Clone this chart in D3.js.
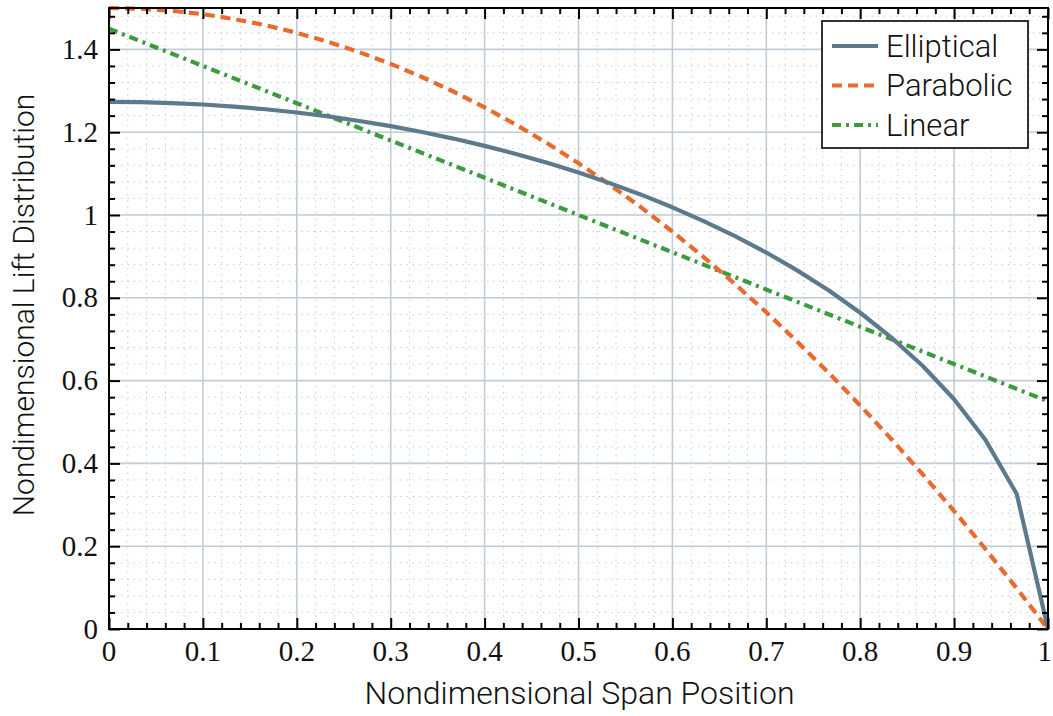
<!DOCTYPE html>
<html>
<head>
<meta charset="utf-8">
<script src="https://cdn.jsdelivr.net/npm/d3@7"></script>
<style>
  html, body { margin: 0; padding: 0; background: #fff; }
  svg { display: block; }
  .tick-label { font-family: "Liberation Serif", "DejaVu Serif", serif; font-size: 29px; fill: #111; }
  .axis-title, .legend-text { font-family: Roboto, "Noto Sans", sans-serif; font-weight: 300; fill: #111; }
</style>
</head>
<body>
<svg id="chart" width="1053" height="716"></svg>
<script>
// Spanwise positions (fraction of semi-span)
const spanPos = [0, 0.0333, 0.0667, 0.1, 0.1333, 0.1667, 0.2, 0.2333, 0.2667, 0.3,
  0.3333, 0.3667, 0.4, 0.4333, 0.4667, 0.5, 0.5333, 0.5667, 0.6, 0.6333,
  0.6667, 0.7, 0.7333, 0.7667, 0.8, 0.8333, 0.8667, 0.9, 0.9333, 0.9667, 1];

const ellipticalLift = [1.2732, 1.2725, 1.2704, 1.2669, 1.2619, 1.2554, 1.2475, 1.2381, 1.2271, 1.2146,
  1.2004, 1.1846, 1.1669, 1.1475, 1.1261, 1.1027, 1.0770, 1.0491, 1.0186, 0.9853,
  0.9490, 0.9093, 0.8656, 0.8175, 0.7639, 0.7038, 0.6352, 0.5550, 0.4571, 0.3260, 0];

const parabolicLift = [1.5, 1.4983, 1.4933, 1.485, 1.4733, 1.4583, 1.44, 1.4183, 1.3933, 1.365,
  1.3333, 1.2983, 1.26, 1.2183, 1.1733, 1.125, 1.0733, 1.0183, 0.96, 0.8983,
  0.8333, 0.765, 0.6933, 0.6183, 0.54, 0.4583, 0.3733, 0.285, 0.1933, 0.0983, 0];

const linearPos = [0, 1];
const linearLift = [1.45, 0.55];

const xTicks = [0, 0.1, 0.2, 0.3, 0.4, 0.5, 0.6, 0.7, 0.8, 0.9, 1];
const xTickLabels = ["0", "0.1", "0.2", "0.3", "0.4", "0.5", "0.6", "0.7", "0.8", "0.9", "1"];
const yTicks = [0, 0.2, 0.4, 0.6, 0.8, 1, 1.2, 1.4];
const yTickLabels = ["0", "0.2", "0.4", "0.6", "0.8", "1", "1.2", "1.4"];

const seriesNames = ["Elliptical", "Parabolic", "Linear"];

const svg = d3.select("#chart");
const margin = { left: 109, right: 5, top: 8, bottom: 87 };
const W = 1053, H = 716;
const x = d3.scaleLinear().domain([0, 1]).range([margin.left, W - margin.right]);
const y = d3.scaleLinear().domain([0, 1.5]).range([H - margin.bottom, margin.top]);
const x0 = x.range()[0], x1 = x.range()[1], y0 = y.range()[0], y1 = y.range()[1];

// Minor grid (dotted)
const xMinor = d3.range(0, 1.0001, 0.02).filter(v => Math.abs(v * 10 - Math.round(v * 10)) > 1e-6);
const yMinor = d3.range(0, 1.5001, 0.04).filter(v => Math.abs(v * 5 - Math.round(v * 5)) > 1e-6);
const grid = svg.append("g");
grid.selectAll(".xminor").data(xMinor).join("line")
  .attr("x1", d => x(d)).attr("x2", d => x(d)).attr("y1", y0).attr("y2", y1)
  .attr("stroke", "#b3c6d4").attr("stroke-width", 1).attr("stroke-dasharray", "1.2,5");
grid.selectAll(".yminor").data(yMinor).join("line")
  .attr("y1", d => y(d)).attr("y2", d => y(d)).attr("x1", x0).attr("x2", x1)
  .attr("stroke", "#b3c6d4").attr("stroke-width", 1).attr("stroke-dasharray", "1.2,5");
// Major grid
grid.selectAll(".xmajor").data(xTicks).join("line")
  .attr("x1", d => x(d)).attr("x2", d => x(d)).attr("y1", y0).attr("y2", y1)
  .attr("stroke", "#c0cdd8").attr("stroke-width", 1.6);
grid.selectAll(".ymajor").data(yTicks).join("line")
  .attr("y1", d => y(d)).attr("y2", d => y(d)).attr("x1", x0).attr("x2", x1)
  .attr("stroke", "#c0cdd8").attr("stroke-width", 1.6);

// Curves
const line = d3.line().x(d => x(d[0])).y(d => y(d[1]));
const curves = svg.append("g");
curves.append("path").datum(linearPos.map((v, i) => [v, linearLift[i]]))
  .attr("d", line).attr("fill", "none").attr("stroke", "#3d9a3f").attr("stroke-width", 4.2)
  .attr("stroke-dasharray", "9,5,3,5");
curves.append("path").datum(spanPos.map((v, i) => [v, parabolicLift[i]]))
  .attr("d", line).attr("fill", "none").attr("stroke", "#e96a2c").attr("stroke-width", 4.2)
  .attr("stroke-dasharray", "10,6");
curves.append("path").datum(spanPos.map((v, i) => [v, ellipticalLift[i]]))
  .attr("d", line).attr("fill", "none").attr("stroke", "#5c7a8c").attr("stroke-width", 4.2)
  .attr("stroke-linejoin", "round");

// Axes: inward ticks on all four sides
const majorLen = 11, minorLen = 6;
const axes = svg.append("g");
const styleAxis = g => {
  g.select(".domain").remove();
  g.selectAll(".tick line").attr("stroke", "#000").attr("stroke-width", 2);
};
const addAxis = (axisFn, scale, values, len, transform) => {
  axes.append("g").attr("transform", transform)
    .call(axisFn(scale).tickValues(values).tickSize(-len).tickFormat(() => ""))
    .call(styleAxis);
};
[[xTicks, majorLen], [xMinor, minorLen]].forEach(([vals, len]) => {
  addAxis(d3.axisBottom, x, vals, len, `translate(0,${y0})`);
  addAxis(d3.axisTop, x, vals, len, `translate(0,${y1})`);
});
[[yTicks, majorLen], [yMinor, minorLen]].forEach(([vals, len]) => {
  addAxis(d3.axisLeft, y, vals, len, `translate(${x0},0)`);
  addAxis(d3.axisRight, y, vals, len, `translate(${x1},0)`);
});

// Frame
svg.append("rect").attr("x", x0).attr("y", y1).attr("width", x1 - x0).attr("height", y0 - y1)
  .attr("fill", "none").attr("stroke", "#000").attr("stroke-width", 2);

// Tick labels
const lastX = xTicks.length - 1;
svg.append("g").selectAll("text").data(xTicks).join("text")
  .attr("class", "tick-label")
  .attr("x", (d, i) => i === lastX ? W - 1 : x(d))
  .attr("y", y0 + 32)
  .attr("text-anchor", (d, i) => i === lastX ? "end" : "middle")
  .text((d, i) => xTickLabels[i]);
svg.append("g").selectAll("text").data(yTicks).join("text")
  .attr("class", "tick-label").attr("x", x0 - 11).attr("y", d => y(d)).attr("dy", "0.33em")
  .attr("text-anchor", "end").text((d, i) => yTickLabels[i]);

// Axis titles
svg.append("text").attr("class", "axis-title").attr("x", (x0 + x1) / 2 + 1).attr("y", 704)
  .attr("font-size", 32)
  .attr("text-anchor", "middle").text("Nondimensional Span Position");
svg.append("text").attr("class", "axis-title")
  .attr("font-size", 30)
  .attr("transform", `translate(34,305) rotate(-90)`)
  .attr("text-anchor", "middle").text("Nondimensional Lift Distribution");

// Legend
const legend = svg.append("g");
legend.append("rect").attr("x", 822).attr("y", 21).attr("width", 206).attr("height", 127)
  .attr("fill", "#fff").attr("stroke", "#000").attr("stroke-width", 1.6);
const legendStyles = [
  { color: "#5c7a8c", dash: null },
  { color: "#e96a2c", dash: "10,6" },
  { color: "#3d9a3f", dash: "9,5,3,5" }
];
seriesNames.forEach((name, i) => {
  const ly = 46 + i * 39.5;
  legend.append("line").attr("x1", 832).attr("x2", 878).attr("y1", ly).attr("y2", ly)
    .attr("stroke", legendStyles[i].color).attr("stroke-width", 4.2)
    .attr("stroke-dasharray", legendStyles[i].dash);
  legend.append("text").attr("class", "legend-text").attr("x", 886).attr("y", ly).attr("dy", "0.35em")
    .attr("font-size", 31)
    .text(name);
});
</script>
</body>
</html>
